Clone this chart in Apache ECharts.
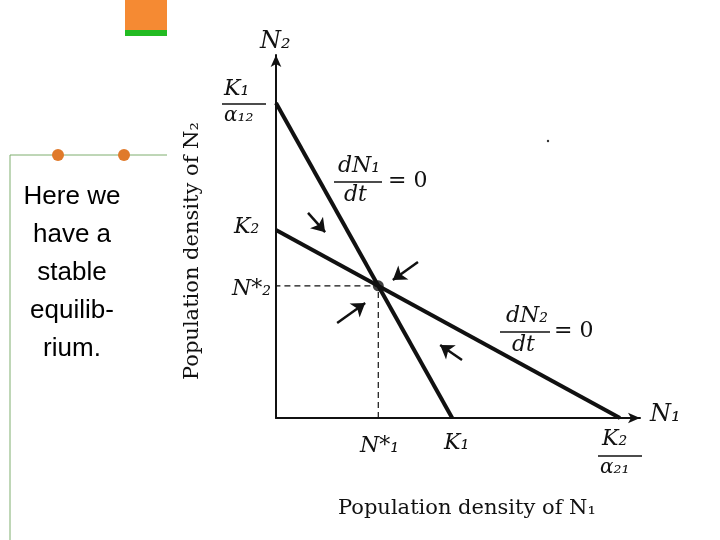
<!DOCTYPE html>
<html>
<head>
<meta charset="utf-8">
<script src="https://cdn.jsdelivr.net/npm/echarts@6/dist/echarts.min.js"></script>
</head>
<body style="margin:0;overflow:hidden;background:#fff">
<div id="main" style="width:720px;height:540px"></div>
<script>
// isoclines (data units: 0..100 on both axes)
var isoN1 = [[0, 86.8], [48.4, 0]];   // K1/a12 -> K1
var isoN2 = [[0, 51.8], [94.5, 0]];   // K2 -> K2/a21
var equil = [28.1, 36.4];
var arrows = [
  [[8.8, 56.5], [13.5, 51.2]],
  [[39.0, 43.0], [32.1, 38.0]],
  [[16.8, 26.2], [24.5, 31.7]],
  [[51.1, 16.0], [45.1, 20.1]]
];

var chart = echarts.init(document.getElementById('main'));
var serif = 'DejaVu Serif';
function t(x, y, s, size, extra) {
  return {type: 'text', left: x, top: y, style: {text: s, font: (extra || 'italic') + ' ' + size + 'px ' + serif, fill: '#111'}};
}
var option = {
  animation: false,
  grid: {left: 276, right: 80, top: 55, bottom: 122},
  xAxis: {type: 'value', min: 0, max: 100, axisLine: {lineStyle: {color: '#111', width: 2}, symbol: ['none', 'arrow'], symbolSize: [8, 12]},
    axisTick: {show: false}, axisLabel: {show: false}, splitLine: {show: false}},
  yAxis: {type: 'value', min: 0, max: 100, axisLine: {show: true, lineStyle: {color: '#111', width: 2}, symbol: ['none', 'arrow'], symbolSize: [8, 12]},
    axisTick: {show: false}, axisLabel: {show: false}, splitLine: {show: false}},
  series: [
    {type: 'line', data: isoN1, symbol: 'none', lineStyle: {color: '#111', width: 4}},
    {type: 'line', data: isoN2, symbol: 'none', lineStyle: {color: '#111', width: 4}},
    {type: 'line', data: [[equil[0], 0], equil, [0, equil[1]]], symbol: 'none', lineStyle: {color: '#111', width: 1.2, type: [6, 4]}},
    {type: 'scatter', data: [equil], symbolSize: 11, itemStyle: {color: '#111'}},
    {type: 'lines', coordinateSystem: 'cartesian2d', data: arrows.map(function (a) { return {coords: a}; }),
      symbol: ['none', 'arrow'], symbolSize: 13, lineStyle: {color: '#111', width: 2.5, opacity: 1}}
  ],
  graphic: [
    {type: 'rect', shape: {x: 125, y: 0, width: 42, height: 30}, style: {fill: '#f58a33'}},
    {type: 'rect', shape: {x: 125, y: 30, width: 42, height: 6}, style: {fill: '#22bb22'}},
    {type: 'line', shape: {x1: 10, y1: 155, x2: 10, y2: 540}, style: {stroke: '#7fae6e', lineWidth: 1}},
    {type: 'line', shape: {x1: 10, y1: 155, x2: 167, y2: 155}, style: {stroke: '#7fae6e', lineWidth: 1}},
    {type: 'circle', shape: {cx: 58, cy: 155, r: 6}, style: {fill: '#e07a2a'}},
    {type: 'circle', shape: {cx: 124, cy: 155, r: 6}, style: {fill: '#e07a2a'}},
    {type: 'text', x: 72, y: 178, style: {text: 'Here we\nhave a\nstable\nequilib-\nrium.', font: '26px Liberation Sans', fill: '#000', align: 'center', lineHeight: 38}},
    {type: 'text', x: 182, y: 380, rotation: Math.PI / 2, style: {text: 'Population density of N₂', font: '21px ' + serif, fill: '#111'}},
    t(338, 498, 'Population density of N₁', 21, 'normal'),
    t(260, 30, 'N₂', 24),
    t(224, 78, 'K₁', 22),
    {type: 'line', shape: {x1: 222, y1: 104, x2: 266, y2: 104}, style: {stroke: '#111', lineWidth: 1.5}},
    t(224, 106, 'α₁₂', 20),
    t(234, 216, 'K₂', 22),
    t(232, 278, 'N*₂', 22),
    t(360, 435, 'N*₁', 22),
    t(444, 432, 'K₁', 22),
    t(602, 428, 'K₂', 22),
    {type: 'line', shape: {x1: 598, y1: 456, x2: 642, y2: 456}, style: {stroke: '#111', lineWidth: 1.5}},
    t(600, 458, 'α₂₁', 20),
    t(650, 403, 'N₁', 24),
    t(338, 155, 'dN₁', 22),
    {type: 'line', shape: {x1: 334, y1: 182, x2: 382, y2: 182}, style: {stroke: '#111', lineWidth: 1.5}},
    t(344, 184, 'dt', 22),
    t(388, 170, '= 0', 22, 'normal'),
    t(506, 305, 'dN₂', 22),
    {type: 'line', shape: {x1: 500, y1: 332, x2: 550, y2: 332}, style: {stroke: '#111', lineWidth: 1.5}},
    t(512, 334, 'dt', 22),
    t(554, 320, '= 0', 22, 'normal'),
    {type: 'circle', shape: {cx: 548, cy: 141, r: 1.2}, style: {fill: '#333'}}
  ]
};
chart.setOption(option);
</script>
</body>
</html>
